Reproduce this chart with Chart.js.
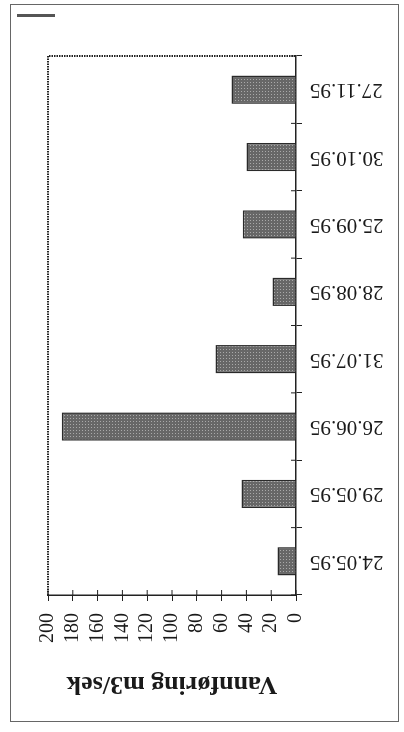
<!DOCTYPE html>
<html>
<head>
<meta charset="utf-8">
<script src="https://cdn.jsdelivr.net/npm/chart.js@4.4.1/dist/chart.umd.min.js"></script>
<style>
  html, body { margin: 0; padding: 0; background: #fff; width: 404px; height: 732px; overflow: hidden; }
  /* the page is a scanned sheet turned on its side, so the chart is drawn upright and rotated */
  #sheet {
    position: absolute; left: 0; top: 0;
    width: 732px; height: 404px;
    transform-origin: 0 0;
    transform: translateY(732px) rotate(-90deg);
    background: #fff;
  }
  #frame {
    position: absolute; left: 10px; top: 10px; width: 716px; height: 387px;
    border: 1.5px solid #666;
  }
  #mark {
    position: absolute; left: 715px; top: 17px; width: 3px; height: 38px;
    background: #555;
  }
  canvas { position: absolute; left: 0; top: 0; }
</style>
</head>
<body>
<div id="sheet">
  <div id="frame"></div>
  <div id="mark"></div>
  <canvas id="c" width="732" height="404"></canvas>
</div>
<script>
const dates = ['24.05.95', '29.05.95', '26.06.95', '31.07.95', '28.08.95', '25.09.95', '30.10.95', '27.11.95'];
const vannforing = [15, 44, 189, 65, 19, 43, 40, 52];
const yTicks = [0, 20, 40, 60, 80, 100, 120, 140, 160, 180, 200];
const yTitle = 'Vannføring m3/sek';

// halftone grey like the printed bars
function dotFill() {
  const p = document.createElement('canvas');
  p.width = 3; p.height = 3;
  const g = p.getContext('2d');
  g.fillStyle = '#676767';
  g.fillRect(0, 0, 3, 3);
  g.fillStyle = '#a9a9a9';
  g.fillRect(1, 1, 1, 1);
  return g.createPattern(p, 'repeat');
}

const ctx = document.getElementById('c').getContext('2d');

// inner halves of the ticks + dotted top/right of the plot box
const boxPlugin = {
  id: 'box',
  afterDraw(chart) {
    const a = chart.chartArea;
    const c = chart.ctx;
    c.save();
    c.strokeStyle = '#222';
    c.lineWidth = 2;
    c.setLineDash([1.5, 1]);
    c.beginPath();
    c.moveTo(a.left, a.top);
    c.lineTo(a.right, a.top);
    c.lineTo(a.right, a.bottom);
    c.stroke();
    c.setLineDash([]);
    c.lineWidth = 1;
    const y = chart.scales.y;
    c.beginPath();
    yTicks.forEach(v => {
      const py = y.getPixelForValue(v);
      c.moveTo(a.left, py);
      c.lineTo(a.left + 5, py);
    });
    const x = chart.scales.x;
    for (let i = 0; i <= dates.length; i++) {
      const px = x.getPixelForValue(i - 0.5);
      c.moveTo(px, a.bottom);
      c.lineTo(px, a.bottom - 5);
    }
    c.stroke();
    c.restore();
  }
};

new Chart(ctx, {
  type: 'bar',
  data: {
    labels: dates,
    datasets: [{
      data: vannforing,
      backgroundColor: dotFill(),
      borderColor: '#2a2a2a',
      borderWidth: 1.5,
      barPercentage: 0.42,
      categoryPercentage: 1
    }]
  },
  options: {
    responsive: false,
    animation: false,
    layout: { padding: { left: 30, top: 48, right: 56, bottom: 0 } },
    plugins: { legend: { display: false }, tooltip: { enabled: false } },
    scales: {
      x: {
        grid: { display: true, drawOnChartArea: false, tickLength: 6, color: '#222', offset: true },
        border: { color: '#222', width: 1.5 },
        ticks: {
          minRotation: 90, maxRotation: 90, padding: 8, autoSkip: false,
          color: '#1a1a1a',
          font: { family: '"Liberation Serif", "Times New Roman", serif', size: 21 }
        },
        afterFit(s) { s.height = 404 - 296; }
      },
      y: {
        min: 0, max: 200,
        afterBuildTicks(s) { s.ticks = yTicks.map(v => ({ value: v })); },
        grid: { display: true, drawOnChartArea: false, tickLength: 6, color: '#222' },
        border: { color: '#222', width: 1.5 },
        ticks: {
          padding: 12, autoSkip: false,
          color: '#1a1a1a',
          font: { family: '"Liberation Serif", "Times New Roman", serif', size: 20 }
        },
        title: {
          display: true,
          text: yTitle,
          color: '#1a1a1a',
          padding: { top: 3, bottom: 0 },
          font: { family: '"Liberation Serif", "Times New Roman", serif', size: 26, weight: 'bold' }
        },
        afterFit(s) { s.width = 107; }
      }
    }
  },
  plugins: [boxPlugin]
});
</script>
</body>
</html>
